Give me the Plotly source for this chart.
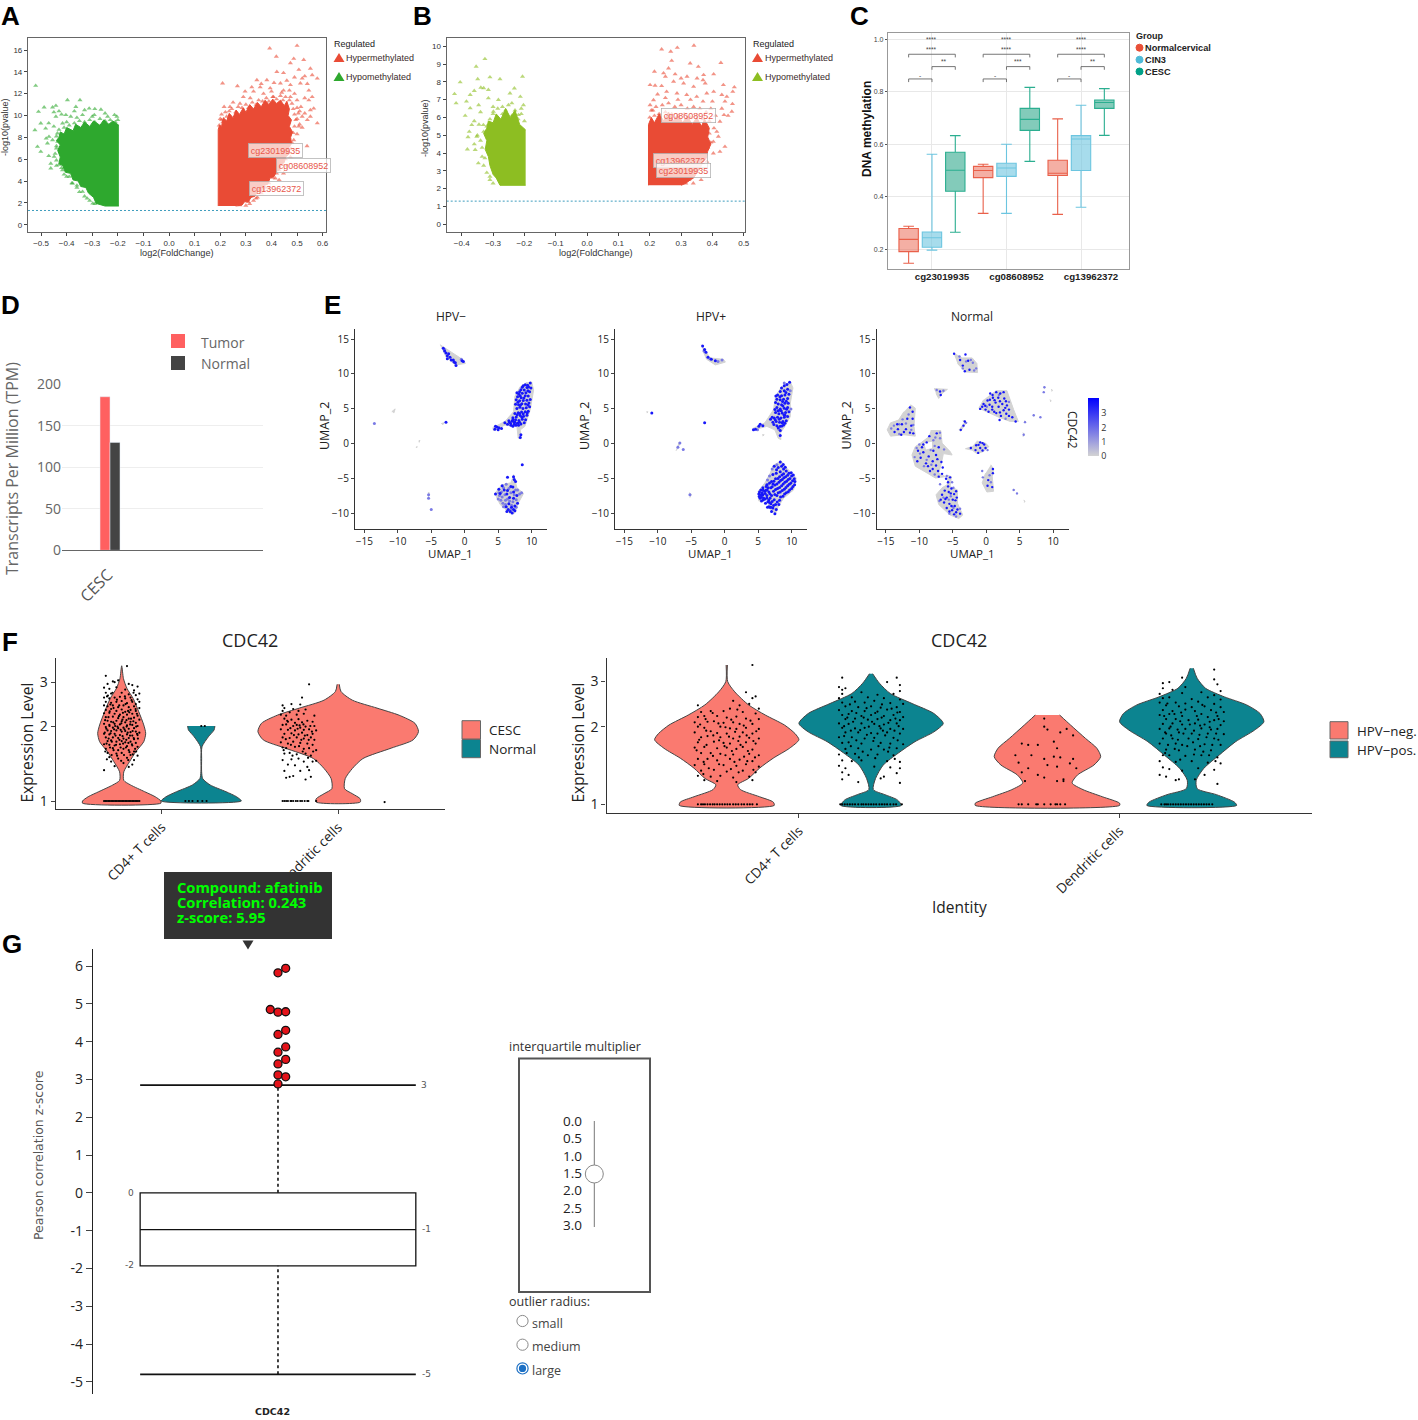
import plotly.graph_objects as go

W, H = 1418, 1420

# ---------------- A: volcano (dense core outlines, plus outlying points)
A_RED_CORE_X = [.192,.192,.197,.205,.212,.225,.235,.25,.262,.275,.29,.30,.315,.33,.345,.36,.375,.39,.405,.42,.435,.45,.46,.47,.465,.478,.47,.482,.475,.478,.465,.47,.455,.45,.44,.43,.42,.41,.395,.385,.37,.36,.345,.335,.32,.31,.295,.285,.26]
A_RED_CORE_Y = [1.71,8.7,9.1,9.0,9.8,9.5,10.2,9.8,10.5,10.1,10.7,10.3,11,10.6,11.2,10.8,11.4,11,11.5,11.1,11.4,10.9,11.3,10.6,10,9.6,9,8.5,8,7.4,7,6.5,6.2,5.7,5.6,5,4.9,4.4,4.3,3.7,3.6,3.1,3,2.6,2.5,2.1,2.1,1.8,1.71]
A_RED_PTS = [(.5,16.4),(.393,16.15),(.419,15.4),(.487,15.2),(.526,15.1),(.474,14.8),(.421,14),(.447,13.9),(.507,14.2),
 (.552,14.3),(.559,13.7),(.579,13.4),(.209,12.95),(.343,13.25),(.382,13.25),(.323,12.6),(.267,12.7),(.297,12.2),
 (.356,12.6),(.395,12.5),(.435,12.95),(.474,12.8),(.513,12.95),(.546,12.3),(.559,11.7),(.552,10.5),(.565,10.65),
 (.579,9.3),(.552,9.9),(.546,11.4),(.5,11.4),(.474,11.7),(.447,12.3),(.408,11.7),(.369,12),(.317,11.6),(.277,11.1),
 (.238,10.8),(.215,10.8),(.205,9.6),(.539,7.2),(.507,9),(.487,7.75),(.474,6.2),(.447,4.7),(.415,4.25),(.369,3.2),
 (.277,1.8),(.53,13.6),(.54,12.9),(.52,13.4),(.49,13.5),(.46,13.2),(.41,13),(.36,12.9),(.53,10.2),(.54,9.6),(.52,8.9),
 (.5,8.3),(.51,10.4),(.33,12.2),(.25,11.2),(.29,11.7),(.46,5.4),(.43,4.1),(.39,3.3),(.34,2.4),(.31,2.1),
 (.196,9.1),(.2,9.7),(.205,10.1),(.21,9.4),(.22,10.3),(.225,9.9),(.235,10.4),(.245,10.6),(.26,10.3),(.27,10.8),(.285,10.7),
 (.3,11),(.31,10.7),(.325,11.2),(.34,11),(.35,11.4),(.365,11.3),(.38,11.6),(.39,11.3),(.405,11.7),(.42,11.5),(.435,11.8),
 (.445,11.4),(.455,11.7),(.47,11.4),(.48,11.1),(.485,10.6),(.49,10.1),(.495,9.6),(.5,10.7),(.505,10.2),(.51,9.2),(.515,10.8),
 (.52,9.9),(.49,9),(.485,8.4),(.48,7.5),(.475,7),(.47,6.6),(.455,6),(.445,5.5),(.43,5),(.42,4.7),(.405,4.3),(.39,3.8),
 (.375,3.4),(.36,2.9),(.345,2.5),(.33,2.2),(.315,1.9),(.3,1.75),(.49,12),(.53,11.6),(.5,9.7),(.47,12.3),(.44,12.1),(.4,12.2)]
A_GREEN_CORE_X = [-.196,-.25,-.285,-.295,-.315,-.325,-.345,-.355,-.375,-.385,-.405,-.415,-.43,-.425,-.435,-.425,-.44,-.43,-.425,-.41,-.40,-.375,-.365,-.345,-.33,-.31,-.295,-.27,-.255,-.235,-.22,-.196]
A_GREEN_CORE_Y = [1.71,1.71,1.95,2.5,2.9,3.4,3.5,4,4.1,4.7,4.8,5.4,5.6,6.2,6.8,7.3,7.7,8,8.5,8.3,8.9,8.6,9.2,8.9,9.4,9,9.5,9.1,9.6,9.2,9.5,9.1]
A_GREEN_PTS = [(-.521,12.73),(-.397,11.42),(-.348,11.42),(-.442,10.9),(-.51,10.35),(-.488,10.75),(-.455,10.75),
 (-.364,10.8),(-.312,10.65),(-.266,10.55),(-.213,10.05),(-.204,9.9),(-.524,8.67),(-.501,9.28),(-.482,8.82),(-.442,9.9),
 (-.403,10.05),(-.416,9.28),(-.501,6.69),(-.514,7.15),(-.462,5.6),(-.455,7.75),(-.475,7.45),(-.462,5.16),(-.449,6.23),
 (-.469,8.06),(-.436,8.37),(-.384,9.9),(-.338,10.05),(-.292,10.05),(-.24,9.9),(-.298,1.95),(-.338,3.02),(-.377,3.79),
 (-.416,5.0),(-.45,10.3),(-.43,10.4),(-.42,10.1),(-.37,10.4),(-.33,10.5),(-.29,10.6),(-.25,10.2),(-.47,9.3),(-.45,9.0),
 (-.48,7.9),(-.44,7.2),(-.47,6.3),(-.44,5.4),(-.4,4.4),(-.36,3.4),(-.32,2.4),
 (-.2,9.6),(-.21,9.4),(-.23,9.6),(-.25,9.5),(-.27,9.7),(-.29,9.4),(-.31,9.6),(-.33,9.4),(-.35,9.5),(-.37,9.3),(-.39,9.1),(-.41,8.9),
 (-.43,8.7),(-.44,8.1),(-.435,7.6),(-.44,7),(-.445,6.5),(-.44,5.9),(-.43,5.5),(-.42,5.2),(-.41,4.6),(-.39,4.4),(-.38,3.8),(-.36,3.6),
 (-.35,3),(-.33,2.6),(-.31,2.2),(-.29,1.9),(-.4,9.4),(-.36,9.8),(-.3,9.9)]
A_LABELS = ["cg23019935", "cg08608952", "cg13962372"]
A_LABEL_X = [0.414, 0.524, 0.42]
A_LABEL_Y = [6.8, 5.4, 3.35]
A_THRESHOLD = 1.3

# ---------------- B: volcano
B_RED_CORE_X = [.196,.196,.205,.215,.23,.245,.26,.275,.29,.305,.32,.335,.35,.365,.375,.39,.385,.395,.385,.38,.37,.36,.35,.34,.33,.315,.30]
B_RED_CORE_Y = [2.19,5.6,6,5.7,6.2,5.8,6.3,5.8,6.2,5.7,6.1,5.6,6,5.5,5.9,5.4,4.9,4.5,4.1,3.7,3.5,3.1,2.9,2.6,2.5,2.3,2.19]
B_RED_PTS = [(.238,9.83),(.288,9.92),(.267,9.7),(.341,10.04),(.27,9.19),(.329,9.04),(.427,9.07),(.355,8.85),(.26,8.76),
 (.215,8.58),(.244,8.49),(.281,8.43),(.372,8.39),(.404,8.43),(.319,8.3),(.351,8.2),(.201,7.83),(.217,7.79),(.238,7.77),
 (.276,8.02),(.308,7.92),(.34,7.73),(.377,7.92),(.435,7.83),(.47,7.7),(.465,7.45),(.254,7.45),(.287,7.36),(.318,7.27),
 (.404,7.45),(.43,7.27),(.446,7.17),(.212,6.98),(.201,6.7),(.35,7.17),(.382,7.36),(.464,6.76),(.462,6.33),(.437,6.14),
 (.424,5.77),(.414,5.2),(.403,4.64),(.419,4.93),(.44,4.36),(.424,4.08),(.403,3.99),(.382,3.52),(.339,2.3),(.364,2.49),
 (.334,2.68),(.37,8.1),(.25,8.3),(.3,8.2),(.225,7.3),(.44,6.9),(.43,6.5),(.45,6.1),
 (.2,6),(.205,6.4),(.215,6.1),(.22,6.6),(.23,6.2),(.24,6.7),(.25,6.3),(.26,6.8),(.27,6.2),(.28,6.6),(.29,6.1),(.3,6.7),(.31,6.2),
 (.32,6.5),(.33,6),(.34,6.6),(.35,6.1),(.36,6.5),(.37,5.9),(.38,6.3),(.39,5.8),(.395,6.5),(.41,6.1),(.405,5.4),(.39,5.1),(.395,4.6),
 (.385,4.3),(.375,3.8),(.36,3.4),(.35,3.1),(.34,2.8),(.325,2.5),(.315,2.3),(.4,6.9),(.37,6.9),(.33,7),(.29,7),(.25,7.1),(.21,6.4)]
B_GREEN_CORE_X = [-.196,-.278,-.29,-.3,-.31,-.315,-.325,-.32,-.33,-.32,-.315,-.3,-.29,-.275,-.26,-.245,-.23,-.215,-.196]
B_GREEN_CORE_Y = [2.19,2.19,2.6,2.8,3.3,3.8,4.2,4.7,5.1,5.4,5.8,5.7,6.2,5.9,6.5,6,6.4,5.6,5.3]
B_GREEN_PTS = [(-.326,9.29),(-.354,8.86),(-.405,7.98),(-.349,8.16),(-.31,8.26),(-.278,8.16),(-.206,8.3),(-.423,7.32),
 (-.418,6.8),(-.339,7.68),(-.373,7.27),(-.315,7.55),(-.232,7.64),(-.246,7.36),(-.389,6.1),(-.373,6.52),(-.346,6.7),
 (-.315,7.08),(-.283,6.99),(-.213,7.17),(-.203,6.7),(-.376,5.2),(-.382,4.21),(-.357,4.18),(-.352,4.93),(-.368,5.58),
 (-.331,5.58),(-.347,3.43),(-.31,2.68),(-.326,3.71),(-.299,6.33),(-.251,6.7),(-.219,6.14),(-.33,7.65),(-.36,7.5),
 (-.385,6.9),(-.34,6.3),(-.36,5.8),(-.38,4.9),(-.27,6.6),
 (-.2,5.8),(-.21,6.2),(-.22,5.9),(-.23,6.4),(-.24,6.1),(-.26,6.4),(-.27,6.2),(-.285,6.5),(-.3,6.2),(-.31,5.9),(-.32,5.5),(-.33,5.2),
 (-.34,4.7),(-.335,4.3),(-.335,3.8),(-.33,3.3),(-.32,2.9),(-.31,2.5),(-.3,2.3),(-.345,5.6),(-.35,5),(-.36,4.5),(-.3,6.6),(-.24,6.8),(-.21,6.5)]
B_LABELS = ["cg13962372", "cg23019935", "cg08608952"]
B_LABEL_X = [0.299, 0.307, 0.323]
B_LABEL_Y = [3.6, 3.03, 6.1]
B_THRESHOLD = 1.3

# ---------------- C: boxplots
C_PROBES = ["cg23019935", "cg08608952", "cg13962372"]
C_GROUPS = ["Normalcervical", "CIN3", "CESC"]
C_LOW = [[.147, .337, .333], [.197, .337, .36], [.265, .535, .634]]
C_Q1 = [[.191, .473, .481], [.208, .478, .5], [.421, .653, .737]]
C_MED = [[.238, .5, .49], [.244, .51, .62], [.501, .695, .759]]
C_Q3 = [[.279, .516, .539], [.266, .528, .633], [.57, .737, .769]]
C_HIGH = [[.288, .524, .697], [.562, .6, .749], [.633, .817, .812]]
C_STARS = [["-", "**", "****", "****"], ["-", "***", "****", "****"], ["-", "**", "****", "****"]]

# ---------------- D: bars
D_CANCER = ["CESC"]
D_TUMOR = [185]
D_NORMAL = [130]

# ---------------- E: UMAP cluster outlines (grey) and expressing cells
E1_CLUSTERS = [
 [(-3.7,14.2),(-.2,12),(.1,11.5),(-1.4,11.3),(-2.9,12.5)],
 [(10,8.9),(10.3,7.7),(9.8,4.9),(9,2.5),(8.3,2),(8.4,.7),(8,.8),(7.8,2.5),(6,2.7),(5.1,2.2),(4.3,1.9),(4.2,2.3),(6,3.2),(7.3,4.6),(7.5,6.8),(8.3,8.2),(9.3,8.8)],
 [(7.3,-4.4),(7.8,-6.3),(8.8,-7.1),(8,-8.5),(7.5,-9.9),(6.8,-10),(5.3,-8.7),(4.5,-7.1),(5.5,-5.9),(6.8,-5.6)],
 [(-10.9,4.6),(-10.4,5),(-10.6,4.4)], [(-6.9,.4),(-6.7,.5),(-6.8,.2)], [(-7.3,-.5),(-7.1,-.4),(-7.2,-.6)],
 [(-3.5,2.9),(-3.1,3),(-3.3,2.7)], [(-5.5,-7),(-5.3,-7),(-5.4,-7.6)]]
E1_HIGH = [(-3.2,13.7),(-3,13.3),(-2.8,13),(-2.6,12.6),(-2.6,12.2),(-2.2,12.4),(-2,12),(-1.7,12),(-1.4,11.6),(-1.3,11.2),(-.4,11.9),(-.2,11.8),(-2.4,12.9),(-1.6,11.7),
 (9.8,8.7),(9.4,8.4),(9.05,8.45),(8.6,8.1),(9.9,8),(9.3,8.05),(8.9,7.7),(8.4,7.75),(9.7,7.45),(9.15,7.3),(8.6,7.25),(8.1,7.1),(9.5,6.85),(9.05,6.9),(8.45,6.6),(7.9,6.75),(9.8,6.35),(9.3,6.25),(8.75,6.2),(8.2,6.15),(7.7,6.3),(9.6,5.85),(9.1,5.7),(8.55,5.75),(8.05,5.6),(7.6,5.65),(9.7,5.3),(9.2,5.15),(8.7,5.05),(8.25,5.25),(7.8,5.05),(9.5,4.65),(9.05,4.6),(8.5,4.55),(8,4.45),(7.5,4.35),(9.3,4.1),(8.8,3.95),(8.3,4.05),(7.7,3.85),(7.2,3.75),(9.1,3.45),(8.6,3.5),(8.1,3.35),(7.6,3.45),(7.1,3.25),(6.6,3.3),(8.9,3),(8.4,2.85),(7.9,2.95),(7.4,2.8),(6.9,2.65),(6.4,2.8),(6,3),(8.4,1.3),(8.3,.9),(4.5,2.1),(4.8,2.4),(5.1,2.3),(4.6,2.5),(5,2),(5.5,2.2),(7.2,2.5),(6.7,3.1),(7.5,3.1),(8.2,3.1),
 (9.55,8.15),(8.75,8.3),(8.2,7.45),(9.45,7.6),(7.8,7.3),(8.85,6.55),(8.3,6.85),(9.45,5.55),(8.35,5.55),(7.95,5.95),(9.35,4.4),(8.75,4.3),(8.2,4.35),(7.85,4.15),(8.55,3.8),(7.4,3.1),(8.05,2.65),(7.2,3.45),(6.85,2.95),(7.65,2.65),
 (8.6,-3),(6.4,-4.8),(7.3,-4.7),(7.4,-5.1),(7.6,-5.4),(5.6,-6),(6.9,-6.1),(7.2,-6.2),(5.1,-6.5),(5.9,-6.6),(6.4,-6.7),(7.3,-6.9),(4.6,-7.2),(5.3,-7.1),(6.3,-7.2),(7.8,-7.4),(6.7,-7.7),(7.3,-7.8),(7.9,-8.5),(6.6,-8.6),(7.5,-8.9),(6.2,-9),(7,-9.1),(6.5,-9.4),(7.3,-9.4),(6.8,-9.7),(7.1,-9.9),(7.5,-9.6),(6.3,-9.7),(-2.8,3.1)]
E1_MID = [(5.6,-7.6),(5,-7.9),(6.1,-8.1),(7.2,-8.3),(5.7,-8.5),(5.2,-7.4),(6,-7.3),(6.6,-6.4),(5.5,-6.9),(8.2,-7.2),(8.5,-7),(5.8,-9),(7.9,-6.6),(-13.5,2.9),(-5.4,-7.8),(-5.4,-7.3),(-5,-9.4),(-3,13.5),(-.5,12.1),
 (6.9,-7),(5.8,-6.3),(6.4,-7.9),(7,-8.8),(6.1,-8.7),(7.7,-8),(5.1,-7),(7.6,-6.6),(6.7,-8.2),(6.2,-5.8),(5.4,-8.1),(7.4,-7.3),(6.9,-9.4),(7.7,-9.1)]
E2_CLUSTERS = [
 [(-3.5,14.2),(-2.7,13),(-2.2,12.3),(-.2,12.1),(.1,11.7),(-1.4,11.3),(-2.7,12.1),(-3.2,13.2)],
 [(9.8,8.9),(10.2,8),(9.8,5.8),(9.8,3.9),(9,2.5),(8.3,1.5),(8.4,.6),(8,.8),(7.5,2),(6.3,2.5),(5.1,2.2),(4.2,1.9),(4.2,2.2),(6,3),(7.3,4.9),(7.6,6.8),(8.5,8.2)],
 [(8.4,-2.4),(9.3,-3.5),(10.7,-4.9),(10.3,-6.6),(8.8,-7.8),(8,-9),(7.6,-10),(6.8,-9.4),(6.3,-8),(5.1,-8.2),(5,-6.8),(6,-5.6),(6.8,-4.2),(7.3,-3)],
 [(-11.7,4.6),(-11.5,4.6),(-11.6,4.4)], [(-6.9,.2),(-6.6,.2),(-7.2,-.9),(-7.3,-1)], [(-5.3,-7),(-5,-7.2),(-5.2,-7.7)], [(5.6,1.3),(5.9,1.3),(5.7,1.1)]]
E2_HIGH = [(-3.3,14),(-3,13.5),(-2.8,13.1),(-2.5,12.4),(-2,12.1),(-1.4,11.9),
 (9.7,8.8),(9.3,8.5),(8.9,8.3),(8.5,8),(9.4,7.8),(8.9,7.6),(8.3,7.5),(9.6,7.1),(9,7),(8.5,6.9),(7.9,7),(9.4,6.5),(8.8,6.4),(8.3,6.3),(7.8,6.4),(9.5,5.8),(9,5.8),(8.5,5.6),(8,5.7),(7.6,5.9),(9.4,5.2),(8.9,5.1),(8.3,5),(7.8,5.2),(9.6,4.6),(9.1,4.5),(8.6,4.4),(8.1,4.3),(7.6,4.5),(9.4,3.9),(8.9,3.8),(8.4,3.7),(7.9,3.8),(7.4,3.7),(9.2,3.3),(8.7,3.2),(8.2,3.1),(7.7,3.2),(7.2,3.1),(8.8,2.7),(8.3,2.5),(7.8,2.6),(8.3,1.9),(8.3,1.2),(5.1,2.5),(4.6,2.1),(4.3,2),(5.3,2.8),(5.7,2.6),(7.1,3.8),(7.5,4.9),(8.6,3),(9,4.1),(8.2,4.8),(8.7,5.4),(9.2,6.1),
 (9.15,7.35),(8.25,6.75),(8.65,6.05),(7.65,6.85),(9.25,4.95),(8.45,4.75),(7.95,4.75),(8.85,4.15),(8.15,3.5),(7.55,3.45),(6.85,3.5),(9,2.95),(8,2.3),(7.35,2.75),(8.55,2.55),
 (8.3,-2.6),(8.5,-3.2),(8,-3.4),(8.8,-3.6),(7.4,-3.2),(8.3,-4),(9.2,-3.9),(7.7,-4.2),(8.8,-4.3),(9.6,-4.2),(7.2,-4.4),(8.2,-4.7),(9.1,-4.7),(10,-4.6),(7.6,-5),(8.6,-5.1),(9.5,-5.1),(10.4,-5),(7,-5.4),(8.1,-5.5),(9,-5.5),(9.9,-5.6),(10.5,-5.4),(7.5,-5.9),(8.5,-6),(9.4,-6),(10.2,-6.1),(6.2,-6.1),(6.9,-6.3),(7.9,-6.4),(8.9,-6.5),(9.7,-6.6),(5.4,-6.6),(6,-6.8),(6.6,-6.9),(7.3,-6.8),(8.3,-6.9),(9.2,-7),(5.1,-7.2),(5.7,-7.3),(6.3,-7.4),(7,-7.4),(7.8,-7.4),(8.7,-7.5),(5.3,-7.8),(6,-7.9),(6.6,-8),(7.4,-8),(8.2,-8.1),(6.1,-8.5),(6.9,-8.6),(7.6,-8.7),(6.4,-9.1),(7.2,-9.2),(7,-9.7),(7.7,-9.4),(7.5,-10),(5.5,-8.2),(-10.9,4.4),(-3,3),
 (8.75,-2.95),(7.75,-3.7),(9.05,-3.35),(9.95,-4.15),(8.55,-4.45),(9.4,-4.5),(10.25,-4.45),(7.95,-4.95),(8.85,-4.85),(9.75,-4.95),(7.35,-5.35),(8.35,-5.25),(9.25,-5.35),(10.15,-5.3),(7.8,-5.75),(8.75,-5.75),(9.65,-5.8),(10.45,-5.85),(8.2,-6.25),(9.15,-6.25),(10,-6.4),(7.6,-6.55),(8.6,-6.7),(9.5,-6.85),(5.75,-6.65),(6.35,-6.6),(8,-7),(8.95,-7.2),(5.5,-7.6),(7.5,-7.25),(8.35,-7.6),(6.8,-7.75),(7.1,-8.25),(7.85,-8.35),(8.1,-8.7),(7.3,-8.85),(6.75,-9.1),
 (5.2,-6.9),(5.6,-7),(6.2,-6.6),(6.5,-6.3),(5.8,-7.75),(5.4,-7.3),(6.05,-7.1),(6.75,-7.15),(5.15,-7.55),(5.75,-8.05),(6.45,-8.3),(6.3,-7.75),(6.7,-8.4),(6.6,-9),(6.9,-9.1),(5.7,-6.3),(6.3,-5.85),(6.7,-5.6),(7.2,-5.75),(7.1,-6.15)]
E2_MID = [(-1,11.8),(-.4,12),(-2.2,12.2),(-3.1,13.3),(8.9,8.7),(9.8,7.6),(8.1,2.1),(4.9,2),(9.9,5),(7.8,-3),(6.5,-5.8),(-6.7,.1),(-7,-.5),(-6.2,-.8),(-5.2,-7.3),(7.1,-3.6),(6.7,-4.6),(6.4,-5.2)]
E3_CLUSTERS = [
 [(-4.9,13),(-3.6,12.3),(-2.1,12.3),(-1.4,11.5),(-1.3,10.2),(-2.1,10.2),(-3.1,10.3),(-4.3,11.5)],
 [(-7.8,7.9),(-5.8,7.8),(-6.6,7.2),(-7.1,6.5),(-7.5,7.2)],
 [(-11.3,5.6),(-10.6,5.1),(-10.8,2.5),(-10.6,1.1),(-12.3,1.3),(-14.3,1.1),(-14.8,2),(-14.3,3),(-13.1,3.4),(-12.3,4.6)],
 [(-8.3,1.9),(-6.8,1.9),(-6.6,.1),(-5.4,-1.1),(-5.1,-1.6),(-6.4,-1.4),(-6.7,-2.8),(-7.1,-4.2),(-6.1,-4.7),(-7.6,-4.9),(-8.8,-4.2),(-10.6,-3.2),(-11.1,-1.6),(-10.6,-.4),(-9.8,.1),(-8.6,1)],
 [(-5.8,-4.5),(-5.2,-4.7),(-5.4,-6.1),(-4.3,-6.6),(-4.3,-8.5),(-3.5,-10.2),(-4.1,-10.7),(-5.4,-10.2),(-7.1,-8.7),(-7.5,-7.3),(-6.6,-6.3),(-5.9,-5.9)],
 [(1.4,7.6),(3.1,7.6),(4.1,4.9),(4.8,3.2),(3.6,3.2),(1.9,3.8),(-1.1,5.1),(-.4,6.3)],
 [(-3.1,3.3),(-3.5,3.3),(-3,3),(-3.8,1.8),(-4.1,2)],
 [(-1.4,.4),(-.1,.1),(.4,-.4),(-.4,-1.1),(-1.4,-1.4),(-2.1,-.9),(-3.1,-.7),(-2.1,-.4)],
 [(.7,-3),(1.1,-3.7),(.9,-4.7),(1.1,-6.8),(.1,-6.9),(-.6,-5.6),(-.1,-4.2)],
 [(8.6,8.2),(8.8,8.1),(8.7,7.9)], [(9.7,7.8),(9.9,7.7),(9.8,7.5)], [(9.5,6.3),(9.7,6.2),(9.6,6)], [(7,4.2),(7.2,4.1),(7.1,3.9)],
 [(5.7,3.3),(5.9,3.2),(5.8,3)], [(5.5,1.6),(5.7,1.4),(5.5,1)], [(4,-6.5),(4.3,-6.6),(4.1,-6.8)], [(5.6,-8.1),(5.8,-8.2),(5.7,-8.4)]]
E3_HOLES = [[(-9.3,.1),(-8.1,.3),(-8.1,-.6),(-9,-.8)]]
E3_HIGH = [(-4.8,12.9),(-3.1,12.8),(-3.9,12),(-2.7,11.9),(-3.5,11.2),(-2.5,10.6),(-3.2,10.4),(-6.9,7.5),(-6.8,7),
 (-11.4,5.2),(-11,4.6),(-11,3.6),(-12.6,2.8),(-13.2,2.1),(-12,2.1),(-13.7,1.7),(-11.4,1.6),(-12.7,1.3),(-10.9,1.5),
 (-8.5,1.1),(-7.4,1.5),(-8.9,.2),(-9.6,-.5),(-10.2,-1),(-9.4,-1.2),(-7.9,-1),(-8.6,-1.8),(-9.8,-2),(-7.1,-.5),(-7.5,-1.6),(-8,-2.5),(-9,-2.8),(-6.7,-2.6),(-7.5,-3.1),(-8,-3.6),(-7.2,-3.9),(-8.4,-3.9),(-6.6,-4.3),(-7.1,-4.7),
 (-6,-5),(-5.7,-5.5),(-5.4,-4.8),(-5.2,-6.4),(-4.5,-6.8),(-6.2,-6.7),(-5.6,-6.9),(-4.8,-7.2),(-6.6,-7.3),(-5.9,-7.7),(-5,-8),(-4.4,-7.7),(-6.3,-8.4),(-5.5,-8.6),(-4.7,-8.9),(-5.9,-9.2),(-5.1,-9.5),(-4.3,-9.4),(-4.8,-10.1),(-3.9,-10),
 (.6,7.2),(1.5,7.4),(2.6,7.4),(.2,6.2),(1,6.6),(1.8,6.6),(2.7,6.5),(-.4,5.7),(.5,5.6),(1.4,5.9),(2.4,5.7),(3.1,5.5),(-.9,5),(-.1,4.9),(.9,4.9),(2.6,4.8),(3.4,4.9),(1.5,4.4),(2.2,4),(3,4.3),(3.9,3.8),(4.4,3.2),(2,3.4),
 (-3.2,3.2),(-3.4,2.6),(-3.8,2),(-.9,.2),(-.3,-.1),(-1.5,-.2),(-.9,-.6),(-.1,-.6),(-1.6,-.9),(-1.2,-1.3),(-2.3,-.6),(1,-3.6),(1,-4.2),(.3,-5.2),(.2,-6),(.9,-6.2),
 (.95,7),(2.1,7.2),(.55,6.3),(1.25,6.25),(2.05,6.1),(2.95,6.1),(-.15,5.45),(.9,5.3),(1.85,5.3),(2.85,5.15),(-.6,5.3),(.35,4.6),(1.2,4.6),(2.05,4.5),(3.4,4),(-6.5,-3.4),(-8.7,-3.2),(-7.3,-2.2),(-9.4,-.1),(-10.3,-2.5),(-5.7,-6.1),(-5.3,-7.1),(-6.1,-7.9),(-5.2,-8.9),(-4.6,-8.1),(-4.5,-9.8),(-5.5,-9.7),(-6.8,-8),(-11.8,3.6),(-11.2,2.6),(-13.3,2.8),(-12.3,1.7),(-.55,.1),(-1.15,-.15),(-.55,-.95)]
E3_MID = [(-4,12.5),(-2,11.6),(-1.5,10.8),(-3,11.8),(-7.4,7.7),(-6.4,7.6),(-12.5,3.5),(-13,2.8),(-14.2,2.2),(-10.9,2.7),(-13,1.4),(-10,-.1),(-10.7,-1.9),(-9.3,-3.2),(-7.9,.5),(-6.9,1.6),(-6.3,-.8),(-5.9,-4.6),(-6.9,-5.8),(-5.1,-5.5),(-7,-8.2),(-5.3,-7.5),(-3.9,-9.3),(-4.5,-10.4),(1.9,7),(3.4,6),(.1,5.3),(2.9,3.6),(8.7,8.1),(8.6,7.4),(7.1,4.1),(5.8,3.1),(5.6,1.3),(8.1,3.8),(4.1,-6.6),(4.6,-7.1),(-.5,-4.8),(-3,3),(-5,-9),
 (-11.6,4.2),(-12,2.9),(-13.8,2.6),(-11.2,2),(-9.9,-1.4),(-10.4,-.6),(-8.3,-.9),(-8.9,-2.3),(-7.7,-.3),(-6.9,.8),(-7.6,.9),(-8.2,-3),(-7.7,-4.4),(-4.9,-6.3),(-6.4,-7.7),(-5.6,-8),(-4.9,-9.2),(-5.5,-10),(-2.3,12),(-3.5,10.8),(-1.8,10.5),(.2,-.9),(-.6,-3.9),(.5,-4.5),(.7,-5.5)]
E_LEVEL_HIGH = 3.6
E_LEVEL_MID = 1.7
E_TITLES = ["HPV−", "HPV+", "Normal"]

# ---------------- F: violins (expression level, half-width in category units)
V1_CD4_CESC_Y = [3.49,3.1,2.83,2.58,2.28,2.02,1.87,1.73,1.58,1.44,1.31,1.21,1.16,1.09,1.04,1.0,.98]
V1_CD4_CESC_W = [0,.01,.03,.065,.097,.125,.136,.125,.081,.045,.012,.012,.05,.13,.19,.222,.222]
V1_CD4_NORM_Y = [2.0,1.93,1.81,1.65,1.48,1.31,1.23,1.16,1.09,1.04,1.0]
V1_CD4_NORM_W = [.077,.073,.04,.004,.002,.002,.008,.05,.14,.2,.227]
V1_DC_CESC_Y = [2.94,2.75,2.54,2.36,2.21,2.05,1.9,1.76,1.63,1.48,1.35,1.23,1.12,1.07,1.02,.99]
V1_DC_CESC_W = [.006,.016,.08,.22,.345,.435,.455,.425,.30,.14,.08,.04,.036,.08,.125,.125]
V2_CD4_NEG_Y = [3.47,2.99,2.73,2.43,2.22,2.03,1.88,1.78,1.65,1.51,1.38,1.26,1.19,1.14,1.07,1.02,.99]
V2_CD4_NEG_W = [.002,.003,.025,.068,.12,.18,.213,.225,.196,.145,.102,.068,.034,.043,.102,.145,.148]
V2_CD4_POS_Y = [3.21,2.95,2.69,2.46,2.25,2.06,1.91,1.75,1.58,1.42,1.26,1.14,1.09,1.04,.99]
V2_CD4_POS_W = [.005,.026,.06,.128,.196,.225,.196,.137,.085,.038,.014,.007,.043,.082,.094]
V2_DC_NEG_Y = [2.22,2.03,1.8,1.65,1.53,1.42,1.3,1.21,1.14,1.07,1.01,.99]
V2_DC_NEG_W = [.038,.072,.119,.154,.166,.145,.094,.077,.111,.171,.225,.225]
V2_DC_POS_Y = [3.37,3.08,2.82,2.61,2.43,2.25,2.09,1.94,1.75,1.55,1.38,1.24,1.15,1.09,1.02,.99]
V2_DC_POS_W = [.005,.017,.043,.102,.171,.213,.225,.196,.137,.085,.038,.014,.017,.077,.133,.14]

# jittered cells: (offset from the group's centre in hundredths of a category, expression level)
D1_CD4 = [(3,3.48),(-9,3.18),(-5,3.02),(-4,3.0),(-8,2.95),(-2,3.05),(4,2.95),(6,2.92),(9,2.88),(-10,2.85),(-7,2.82),(-3,2.86),(2,2.8),(7,2.78),(10,2.7),(-9,2.72),(-6,2.7),(0,2.72),(4,2.68),(8,2.66),(-10,2.6),(-7,2.58),(-4,2.6),(-1,2.62),(2,2.58),(5,2.6),(9,2.56),(10,2.5),(-9,2.5),(-6,2.48),(-3,2.5),(0,2.52),(3,2.47),(6,2.5),(8,2.45),(-10,2.42),(-8,2.4),(-5,2.42),(-2,2.38),(1,2.42),(4,2.38),(7,2.4),(10,2.36),(-9,2.32),(-6,2.34),(-3,2.3),(0,2.33),(2,2.28),(5,2.32),(8,2.3),(-10,2.25),(-7,2.26),(-4,2.24),(-1,2.22),(3,2.22),(6,2.24),(9,2.2),(-9,2.17),(-5,2.18),(-2,2.15),(1,2.17),(4,2.14),(7,2.16),(10,2.12),(-8,2.1),(-6,2.08),(-3,2.1),(0,2.09),(2,2.07),(5,2.08),(8,2.06),(-10,2.04),(-7,2.02),(-4,2.04),(-1,2.03),(3,2.01),(6,2.02),(9,2.0),(-9,1.98),(-5,1.97),(-2,1.96),(1,1.97),(4,1.95),(7,1.96),(-8,1.92),(-6,1.91),(-3,1.92),(0,1.9),(2,1.91),(5,1.89),(8,1.9),(10,1.88),(-10,1.86),(-7,1.85),(-4,1.86),(-1,1.84),(3,1.85),(6,1.83),(9,1.84),(-9,1.8),(-5,1.8),(-2,1.79),(1,1.78),(4,1.79),(7,1.77),(-8,1.74),(-6,1.75),(-3,1.73),(0,1.74),(2,1.72),(5,1.73),(8,1.71),(-10,1.69),(-7,1.68),(-4,1.67),(-1,1.69),(3,1.66),(6,1.67),(9,1.65),(-9,1.62),(-5,1.63),(-2,1.6),(1,1.62),(4,1.6),(7,1.58),(-8,1.56),(-3,1.55),(0,1.56),(5,1.53),(9,1.52),(-7,1.5),(-2,1.48),(3,1.49),(7,1.46),(-6,1.44),(1,1.42),(6,1.4),(-4,1.38),(4,1.37),(-10,1.33),
 (-8.3,2.63),(-2.7,2.55),(5.6,2.54),(-6.4,2.44),(2.2,2.45),(7.9,2.34),(-4.6,2.36),(.7,2.26),(-7.5,2.17),(4.3,2.27),(8.6,2.24),(-1.6,2.19),(-9.4,2.11),(2.7,2.11),(6.6,2.09),(-4.8,2.07),(.4,2.12),(-6.9,2.0),(4.8,2.03),(8.2,1.99),(-2.4,1.99),(-8.7,1.95),(1.6,1.94),(6.2,1.91),(-4.3,1.94),(-.6,1.93),(3.4,1.88),(-9.6,1.88),(-6.3,1.87),(8.7,1.86),(.5,1.82),(-3.5,1.83),(4.7,1.83),(-7.4,1.78),(2.6,1.76),(6.8,1.79),(-1.3,1.76),(-5.6,1.73),(9.2,1.78),(3.8,1.71),(-8.6,1.7),(.8,1.7),(-3.2,1.68),(5.8,1.69),(-6.6,1.64),(2.4,1.64),(7.6,1.62),(-.6,1.64),(-4.6,1.6),(-9.3,1.58),(4.4,1.57),(1.3,1.53),(-2.6,1.52),(6.3,1.54),(-5.7,1.53),(-8.4,1.47),(-.3,1.45),(3.7,1.46),(8.2,1.58),(-3.7,2.0),(-.2,2.05),(2.8,1.99),(5.3,2.14),(-6.8,2.29),(3.6,2.3),(-1.4,2.42),(1.8,2.63),(-5.2,2.72),(-7.8,2.65),(6.7,2.72)]
D1_CD4_STRIP = [-10,-9.2,-8.4,-7.6,-6.8,-6,-5.2,-4.4,-3.6,-2.8,-2,-1.2,-.4,.4,1.2,2,2.8,3.6,4.4,5.2,6,6.8,7.6,8.4,9.2,10]
D1_NORM = [(0,2.0),(2,2.0)]
D1_NORM_STRIP = [-9,-7,-5,-2,.6,3]
D1_DC = [(6,2.94),(2,2.6),(-9,2.42),(-4,2.45),(1,2.44),(-8,2.36),(-3,2.34),(0,2.3),(-9,2.3),(-5,2.27),(4,2.33),(-10,2.22),(-7,2.2),(-1,2.22),(3,2.24),(9,2.2),(-8,2.14),(-4,2.12),(0,2.13),(-6,2.08),(-2,2.06),(2,2.07),(5,2.1),(8,2.08),(-9,2.02),(-7,2.03),(-3,2.0),(-1,2.02),(1,1.97),(4,1.99),(9,2.0),(-10,1.94),(-6,1.93),(-2,1.92),(3,1.93),(6,1.94),(10,1.92),(-8,1.86),(-4,1.87),(0,1.85),(2,1.88),(5,1.84),(8,1.86),(-9,1.8),(-5,1.79),(-1,1.8),(3,1.78),(7,1.8),(9,1.76),(-10,1.72),(-6,1.7),(-3,1.73),(1,1.71),(5,1.7),(8,1.68),(-9,1.64),(-7,1.63),(-2,1.65),(3,1.62),(6,1.63),(10,1.6),(-8,1.55),(-5,1.56),(-1,1.54),(4,1.55),(7,1.52),(-9,1.46),(-4,1.47),(0,1.48),(3,1.44),(8,1.44),(10,1.45),(-6,1.4),(-2,1.39),(5,1.37),(-8,1.32),(1,1.32),(6,1.33),(-7,1.24),(-5,1.25),(-3,1.26),(4,1.22),(7,1.25),
 (-6.4,2.1),(.6,2.01),(2.8,2.03),(6.7,2.0),(-4.6,1.96),(-.5,1.95),(7.6,1.9),(-2.6,1.84),(3.6,1.83),(-7.2,1.77),(1.6,1.76),(5.8,1.76),(-4.3,1.68),(.3,1.66),(-8.4,1.6),(2.4,1.58),(8.3,1.58),(-3.4,1.52),(5.4,1.49)]
D1_DC_STRIP = [-9,-8,-7,-6,-4.5,-4,-3,-1.5,-.5,1,2,3.5,5,5.6,10]
D1_LONE_X = [1.263]
D1_LONE_Y = [.99]
D2_CD4_NEG = [(8,3.47),(6,2.72),(9,2.62),(8,2.58),(-9,2.42),(2,2.52),(4,2.42),(7,2.45),(10,2.35),(-8,2.28),(-5,2.3),(-1,2.3),(1,2.35),(5,2.28),(9,2.25),(-9,2.18),(-7,2.2),(-3,2.2),(0,2.17),(3,2.19),(6,2.15),(10,2.14),(-10,2.08),(-6,2.09),(-4,2.1),(-1,2.07),(2,2.08),(4,2.05),(8,2.05),(-9,2.0),(-7,1.98),(-2,2.0),(1,1.97),(3,1.96),(6,1.98),(10,1.96),(-10,1.9),(-5,1.92),(-3,1.89),(0,1.88),(5,1.9),(8,1.88),(-8,1.82),(-6,1.84),(-2,1.82),(2,1.8),(4,1.83),(7,1.81),(10,1.8),(-9,1.74),(-4,1.75),(-1,1.73),(1,1.72),(6,1.74),(9,1.72),(-10,1.66),(-7,1.67),(-3,1.65),(0,1.66),(3,1.64),(5,1.67),(8,1.63),(-8,1.58),(-5,1.58),(-2,1.57),(2,1.56),(7,1.57),(10,1.55),(-9,1.5),(-6,1.5),(-3,1.48),(1,1.5),(4,1.49),(8,1.47),(-10,1.42),(-7,1.43),(-1,1.42),(3,1.41),(6,1.43),(10,1.4),(-8,1.35),(-4,1.36),(0,1.34),(5,1.35),(9,1.33),(-9,1.29),(-5,1.28),(-2,1.29),(2,1.27),(7,1.28),(-7,1.24),(-3,1.23),(3,1.22),(8,1.24),
 (-4.4,2.26),(3.3,2.33),(-6.6,2.14),(1.4,2.13),(7.4,2.11),(-8.3,2.04),(-2.6,2.06),(5.3,2.02),(-.4,1.99),(-6.4,1.93),(2.6,1.91),(9.2,1.92),(-4.2,1.85),(.7,1.83),(6.2,1.85),(-8.6,1.78),(-2.4,1.77),(3.6,1.76),(8.3,1.76),(-6.3,1.7),(-.7,1.68),(4.3,1.7),(-9.4,1.62),(1.6,1.61),(6.6,1.61),(-4.3,1.54),(-.4,1.55),(5.4,1.53),(8.8,1.52),(-7.2,1.46),(2.4,1.46),(-2.4,1.43),(6.4,1.47),(-5.6,1.38),(1.3,1.37),(3.7,1.33),(-7.3,1.31),(8.3,1.36)]
D2_CD4_POS = [(-9,3.1),(8,3.1),(5,2.98),(9,2.9),(-10,2.85),(-9,2.78),(-8,2.82),(9,2.75),(-9,2.68),(-3,2.72),(2,2.66),(7,2.68),(-10,2.58),(-6,2.6),(-1,2.6),(4,2.58),(9,2.55),(-9,2.48),(-5,2.5),(-2,2.48),(1,2.52),(6,2.47),(10,2.45),(-8,2.4),(-4,2.38),(0,2.4),(3,2.37),(8,2.38),(-10,2.32),(-6,2.3),(-2,2.3),(2,2.29),(5,2.33),(9,2.28),(-9,2.22),(-7,2.24),(-3,2.2),(0,2.22),(4,2.2),(7,2.22),(10,2.18),(-8,2.14),(-5,2.15),(-1,2.13),(2,2.14),(6,2.12),(9,2.12),(-10,2.06),(-7,2.05),(-3,2.06),(1,2.05),(4,2.04),(8,2.06),(-9,1.98),(-5,1.97),(-2,1.98),(3,1.97),(6,1.96),(10,1.96),(-8,1.9),(-4,1.9),(0,1.89),(2,1.88),(5,1.9),(9,1.88),(-10,1.82),(-6,1.82),(-2,1.8),(1,1.81),(7,1.81),(-9,1.73),(-7,1.74),(-3,1.72),(3,1.73),(6,1.72),(10,1.71),(-8,1.64),(-4,1.65),(0,1.63),(4,1.63),(8,1.65),(-10,1.56),(-5,1.57),(-1,1.55),(2,1.56),(7,1.55),(-9,1.48),(-6,1.47),(-3,1.48),(5,1.47),(9,1.46),(-10,1.41),(-8,1.38),(1,1.4),(6,1.39),(9,1.38),(-9,1.33),(-7,1.3),(8,1.32),(4,1.28),(-9,1.25),(-4,1.22),(3,1.26),(9,1.21),
 (-6.6,2.44),(3.4,2.44),(-1.4,2.36),(6.4,2.35),(-4.6,2.26),(1.3,2.26),(8.2,2.27),(-7.4,2.17),(3.3,2.17),(-2.3,2.17),(7.6,2.15),(-5.6,2.09),(.3,2.09),(5.4,2.07),(-8.4,2.01),(-.7,2.0),(2.6,2.01),(8.6,2.01),(-6.3,1.93),(-3.4,1.94),(3.7,1.93),(7.3,1.93),(-1.3,1.86),(4.4,1.85),(-8.4,1.84),(.7,1.76),(-4.6,1.77),(8.3,1.77),(-6.3,1.68),(2.3,1.68),(5.7,1.66),(-2.6,1.6),(5.3,1.6),(-7.6,1.58),(1.3,1.51),(-3.8,1.52),(7.4,1.5)]
D2_DC_NEG = [(-1,2.15),(-1,2.0),(0,1.95),(6,1.96),(4,1.9),(8,1.85),(2,1.75),(-8,1.72),(-6,1.7),(-3,1.7),(3,1.65),(-10,1.55),(-5,1.55),(-1,1.5),(2,1.53),(4,1.52),(8,1.5),(-9,1.45),(0,1.42),(3,1.4),(7,1.44),(-6,1.38),(9,1.38),(-8,1.33),(-3,1.3),(5,1.25),(-7,1.23),(-1,1.27),(3,1.23),(5,1.23)]
D2_DC_POS = [(7,3.33),(-3,3.1),(7,3.05),(-9,2.95),(-7,2.98),(8,2.92),(-9,2.82),(-6,2.78),(-2,2.85),(9,2.75),(-10,2.68),(-3,2.7),(3,2.72),(7,2.65),(-9,2.58),(-7,2.6),(0,2.56),(5,2.6),(9,2.55),(-10,2.48),(-5,2.48),(-2,2.46),(2,2.5),(7,2.45),(-8,2.42),(-4,2.4),(0,2.38),(4,2.4),(9,2.38),(-9,2.32),(-6,2.3),(-2,2.33),(1,2.3),(6,2.32),(10,2.28),(-10,2.22),(-7,2.24),(-3,2.2),(3,2.24),(5,2.18),(8,2.2),(-8,2.14),(-5,2.14),(-1,2.12),(2,2.13),(7,2.12),(10,2.1),(-9,2.05),(-6,2.06),(-3,2.04),(1,2.06),(4,2.04),(9,2.03),(-10,1.96),(-7,1.97),(-2,1.96),(3,1.97),(6,1.95),(8,1.96),(-8,1.88),(-4,1.9),(0,1.88),(5,1.88),(10,1.87),(-9,1.8),(-6,1.8),(-1,1.8),(2,1.79),(7,1.8),(-10,1.72),(-5,1.72),(-3,1.7),(4,1.71),(9,1.7),(-8,1.63),(-4,1.62),(1,1.63),(6,1.62),(-9,1.55),(-7,1.55),(-2,1.54),(3,1.55),(8,1.52),(-10,1.47),(-5,1.46),(0,1.47),(5,1.45),(9,1.44),(-9,1.39),(-7,1.37),(-3,1.35),(2,1.38),(7,1.36),(-10,1.3),(-8,1.28),(-4,1.25),(-5,1.24),(1,1.25),(4,1.3),(8,1.2),
 (-7.6,2.46),(3.3,2.43),(-3.3,2.27),(7.6,2.27),(-5.4,2.24),(1.6,2.2),(-8.6,2.2),(5.6,2.09),(-3.6,2.1),(8.4,2.14),(-.6,2.04),(2.6,2.02),(-6.6,2.0),(-4.4,1.95),(.7,1.93),(5.6,1.99),(7.6,1.88),(-8.3,1.9),(-2.6,1.88),(2.4,1.86),(-6.4,1.85),(4.6,1.82),(8.3,1.78),(-4.3,1.78),(.4,1.74),(-7.4,1.7),(2.6,1.68),(6.4,1.7),(-1.4,1.68),(-5.3,1.64),(3.6,1.6),(-8.3,1.58),(.7,1.56),(5.4,1.55),(-3.6,1.49),(7.4,1.47)]
D2_STRIP_CD4_NEG = [-9,-8,-7.4,-6.8,-6,-5.2,-4.4,-3.8,-3,-2.2,-1.4,-.6,.2,1,2,2.8,3.6,4.6,5.4,6.4,7.2,8,9.4]
D2_STRIP_CD4_POS = [-9.6,-9,-8.2,-7.4,-6.6,-5.8,-5,-4,-3,-2.4,-1.6,-.8,0,.8,1.6,2.6,3.4,4.2,5,6,7,7.8,9.6]
D2_STRIP_DC_NEG = [-9,-8,-6,-3.5,-3,-1,1,2.5,3,4,5.5]
D2_STRIP_DC_POS = [-9.5,-8.5,-8,-7.4,-6.6,-5.8,-5,-4.2,-3.4,-2.6,-1.8,-1,-.2,.6,1.4,2.2,3,3.8,4.6,5.4,6.4]

# ---------------- G: box and outliers
G_Q1, G_MEDIAN, G_Q3, G_LOW, G_HIGH = -1.93, -0.97, 0.0, -4.8, 2.85
G_OUT_SLOT = [1, 0, -1, 0, 1, 1, 0, 1, 0, 1, 0, 0, 1, 0]
G_OUT_Z = [5.94, 5.82, 4.85, 4.78, 4.79, 4.30, 4.19, 3.86, 3.72, 3.53, 3.41, 3.12, 3.07, 2.88]
G_TICKS = [-5, -4, -3, -2, -1, 0, 1, 2, 3, 4, 5, 6]
G_WIDGET_LABELS = ["0.0", "0.5", "1.0", "1.5", "2.0", "2.5", "3.0"]
G_RADIO = ["small", "medium", "large"]
G_TOOLTIP = ["Compound: afatinib", "Correlation: 0.243", "z-score: 5.95"]

# ---------------- styles
ARIAL = "Liberation Sans"
OPEN = "Open Sans"
RED, GREEN, LIME = "#E94B35", "#2EA82E", "#8DBE22"
SALMON, TEAL = "#FA7A70", "#0C8490"
BOX_LINE = ["#E9604A", "#6CC5E0", "#2BAE90"]
BOX_FILL = ["rgba(233,96,74,.5)", "rgba(108,197,224,.6)", "rgba(30,160,130,.55)"]
BOX_DOT = ["#E94F37", "#4FBBD8", "#00A087"]


def fx(p):
    return p / W


def fy(p):
    return 1 - p / H


fig = go.Figure()
annotations, shapes = [], []


def ann(x, y, text, size=10, color="#222", family=OPEN, xanchor="left", angle=0, **kw):
    shift = 1.2 if xanchor == "left" else 0
    annotations.append(dict(x=fx(x - shift), y=fy(y), xref="paper", yref="paper", text=text, showarrow=False,
                            xanchor=xanchor, yanchor="middle", textangle=angle,
                            font=dict(size=size, color=color, family=family, **kw), borderpad=0))


def rect(l, t, r, b, fill, line=None, lw=0):
    shapes.append(dict(type="rect", xref="paper", yref="paper", x0=fx(l), x1=fx(r), y0=fy(b), y1=fy(t),
                       fillcolor=fill, line=dict(color=line or fill, width=lw), layer="above"))


def circle(cx, cy, r, fill, line, lw=1):
    shapes.append(dict(type="circle", xref="paper", yref="paper", x0=fx(cx - r), x1=fx(cx + r), y0=fy(cy + r),
                       y1=fy(cy - r), fillcolor=fill, line=dict(color=line, width=lw), layer="above"))


def triangle(cx, cy, color, pointing_down=False):
    s = -1 if pointing_down else 1
    path = f"M{fx(cx-5.5)},{fy(cy+4.5*s)} L{fx(cx+5.5)},{fy(cy+4.5*s)} L{fx(cx)},{fy(cy-4.5*s)} Z"
    shapes.append(dict(type="path", xref="paper", yref="paper", path=path, fillcolor=color, line=dict(width=0),
                       layer="above"))


def base_axis(l_r, rng, anchor, **kw):
    d = dict(domain=[fx(l_r[0]), fx(l_r[1])], range=rng, anchor=anchor, showgrid=False, zeroline=False)
    d.update(kw)
    return d


def base_yaxis(t_b, rng, anchor, **kw):
    d = dict(domain=[fy(t_b[1]), fy(t_b[0])], range=rng, anchor=anchor, showgrid=False, zeroline=False)
    d.update(kw)
    return d


layout_axes = {}


# ---------- volcano panels
def volcano(n, cols, rows, xr, yr, xticks, yticks, red, green, green_col, labels, thr):
    xa, ya = f"x{n}", f"y{n}"
    tick = dict(size=8, family=ARIAL, color="#333")
    layout_axes[f"xaxis{n}"] = base_axis(cols, xr, ya, tickvals=xticks, tickfont=tick, ticks="outside", ticklen=3,
                                         tickwidth=1, showline=True, mirror=True, linecolor="#666", linewidth=1.2,
                                         tickformat=".1f")
    layout_axes[f"yaxis{n}"] = base_yaxis(rows, yr, xa, tickvals=yticks, tickfont=tick, ticks="outside", ticklen=3,
                                          tickwidth=1, showline=True, mirror=True, linecolor="#666", linewidth=1.2)
    for (cx, cy, pts), col in ((red, RED), (green, green_col)):
        fig.add_trace(go.Scatter(x=[p[0] for p in pts], y=[p[1] for p in pts], mode="markers",
                                 marker=dict(symbol="triangle-up", size=4.5, color=col, opacity=.6, line=dict(width=0)),
                                 xaxis=xa, yaxis=ya, showlegend=False, hoverinfo="skip"))
        fig.add_trace(go.Scatter(x=cx, y=cy, fill="toself", fillcolor=col, mode="lines", line=dict(width=1, color=col),
                                 xaxis=xa, yaxis=ya, showlegend=False, hoverinfo="skip"))
    fig.add_trace(go.Scatter(x=xr, y=[thr, thr], mode="lines", line=dict(color="#3F9DBE", width=1, dash="2px,2px"),
                             xaxis=xa, yaxis=ya, showlegend=False, hoverinfo="skip"))
    for t, x, y in zip(*labels):
        annotations.append(dict(x=x, y=y, xref=xa, yref=ya, text=t, showarrow=False, bgcolor="rgba(255,255,255,.72)",
                                bordercolor="#AAA", borderwidth=.7, borderpad=2,
                                font=dict(size=9, family=ARIAL, color="#E8574A")))


volcano(1, (28, 326), (38, 232), [-.551, .613], [-.67, 17.1],
        [-.5, -.4, -.3, -.2, -.1, 0, .1, .2, .3, .4, .5, .6], list(range(0, 17, 2)),
        (A_RED_CORE_X, A_RED_CORE_Y, A_RED_PTS),
        (A_GREEN_CORE_X, A_GREEN_CORE_Y, A_GREEN_PTS), GREEN,
        (A_LABELS, A_LABEL_X, A_LABEL_Y), A_THRESHOLD)
volcano(2, (446.7, 745), (37.7, 232.3), [-.448, .504], [-.45, 10.48],
        [-.4, -.3, -.2, -.1, 0, .1, .2, .3, .4, .5], list(range(0, 11)),
        (B_RED_CORE_X, B_RED_CORE_Y, B_RED_PTS),
        (B_GREEN_CORE_X, B_GREEN_CORE_Y, B_GREEN_PTS), LIME,
        (B_LABELS, B_LABEL_X, B_LABEL_Y), B_THRESHOLD)
ann(177, 253, "log2(FoldChange)", 9.2, "#333", ARIAL, "center")
ann(596, 253, "log2(FoldChange)", 9.2, "#333", ARIAL, "center")
ann(5, 127, "-log10(pvalue)", 9, "#333", ARIAL, "center", -90)
ann(425, 128, "-log10(pvalue)", 9, "#333", ARIAL, "center", -90)
for lx, c2 in ((334.5, GREEN), (753, LIME)):
    ann(lx, 44, "Regulated", 9, "#222", ARIAL)
    triangle(lx + 4.5, 57.5, RED)
    ann(lx + 12, 58, "Hypermethylated", 9, "#3A2A2A", ARIAL)
    triangle(lx + 4.5, 76.5, c2)
    ann(lx + 12, 77, "Hypomethylated", 9, "#3A2A2A", ARIAL)

# ---------- C
layout_axes["xaxis3"] = base_axis((888, 1129), [-.59, 2.644], "y3", tickvals=[0, 1, 2], ticktext=C_PROBES,
                                  tickfont=dict(size=9.7, family=ARIAL, color="#222", weight="bold"), showgrid=True,
                                  gridcolor="#E8E8E8", showline=True, linecolor="#999", linewidth=1.2, mirror=True,
                                  ticks="", ticklabelshift=10, ticklabelstandoff=-2)
layout_axes["yaxis3"] = base_yaxis((33, 269), [.125, 1.024], "x3", tickvals=[.2, .4, .6, .8, 1.0], tickformat=".1f",
                                   tickfont=dict(size=7, family=ARIAL, color="#444"), showgrid=True, gridcolor="#E8E8E8",
                                   showline=True, linecolor="#999", linewidth=1.2, mirror=True, ticks="outside",
                                   ticklen=2, tickcolor="#555")
OFFS = [-.313, 0, .313]
for g, name in enumerate(C_GROUPS):
    fig.add_trace(go.Box(x=[c + OFFS[g] for c in range(3)], q1=C_Q1[g], median=C_MED[g], q3=C_Q3[g],
                         lowerfence=C_LOW[g], upperfence=C_HIGH[g], width=.26, whiskerwidth=.55, name=name,
                         line=dict(color=BOX_LINE[g], width=1.1), fillcolor=BOX_FILL[g], boxpoints=False,
                         xaxis="x3", yaxis="y3", showlegend=False, hoverinfo="skip"))
LEVELS = [.849, .896, .943]
SPANS = [(-.313, 0), (0, .313), (-.313, .313)]
bx, by = [], []
for c in range(3):
    for lvl, (a, b) in zip(LEVELS, SPANS):
        bx += [c + a, c + a, c + b, c + b, None]
        by += [lvl - .012, lvl, lvl, lvl - .012, None]
fig.add_trace(go.Scatter(x=bx, y=by, mode="lines", line=dict(color="#666", width=.9), xaxis="x3", yaxis="y3",
                         showlegend=False, hoverinfo="skip"))
for c, row in enumerate(C_STARS):
    for t, xo, yv in zip(row, (-.156, .156, 0, 0), (.863, .916, .96, 1.0)):
        annotations.append(dict(x=c + xo, y=yv, xref="x3", yref="y3", text=t, showarrow=False,
                                font=dict(size=6.5, family=ARIAL, color="#444")))
ann(867, 129, "DNA methylation", 12, "#111", ARIAL, "center", -90, weight="bold")
ann(1136, 36, "Group", 9, "#222", ARIAL, weight="bold")
for i, name in enumerate(C_GROUPS):
    cy = [47.7, 59.7, 71.5][i]
    circle(1139.5, cy, 3.5, BOX_DOT[i], BOX_DOT[i])
    ann(1145, cy + .3, name, 9.2, "#222", ARIAL, weight="bold")

# ---------- D
layout_axes["xaxis4"] = base_axis((62, 262.6), [-1.067, 3.391], "y4",
                                  tickvals=[0], ticktext=D_CANCER, tickangle=-45,
                                  tickfont=dict(size=16, family=OPEN, color="#555"), showline=True, linecolor="#666",
                                  linewidth=1, ticks="", ticklabelstandoff=8, ticklabelshift=-2)
layout_axes["yaxis4"] = base_yaxis((384.3, 550.3), [0, 200], "x4", tickvals=[0, 50, 100, 150, 200], showgrid=True,
                                   gridcolor="#EEE", tickfont=dict(size=14, family=OPEN, color="#666"), ticks="")
fig.add_trace(go.Bar(x=[-.111], y=D_TUMOR, width=.222, marker=dict(color="#FF6060"), name="Tumor", xaxis="x4",
                     yaxis="y4", showlegend=False, hoverinfo="skip"))
fig.add_trace(go.Bar(x=[.111], y=D_NORMAL, width=.222, marker=dict(color="#444444"), name="Normal", xaxis="x4",
                     yaxis="y4", showlegend=False, hoverinfo="skip"))
rect(171, 334, 185, 348, "#FF6060")
rect(171, 356, 185, 370, "#444444")
ann(201, 342, "Tumor", 14, "#666")
ann(201, 363.5, "Normal", 14, "#666")
ann(12, 469, "Transcripts Per Million (TPM)", 16, "#666", OPEN, "center", -90)

# ---------- E
E_TICK = dict(size=10, family=OPEN, color="#222")
fig.update_layout(coloraxis=dict(
    colorscale=[[0, "#D3D3D3"], [1, "#0000FF"]], cmin=0, cmax=4.05,
    colorbar=dict(x=fx(1088), xanchor="left", y=fy(398), yanchor="top", len=58, lenmode="pixels", thickness=11,
                  thicknessmode="pixels", tickvals=[0, 1, 2, 3], outlinewidth=0, ticks="", ypad=0, xpad=0,
                  tickfont=dict(size=9, family=OPEN, color="#333"))))
for idx, (n, left, clusters, high, mid) in enumerate(((5, 355, E1_CLUSTERS, E1_HIGH, E1_MID),
                                                      (6, 615, E2_CLUSTERS, E2_HIGH, E2_MID),
                                                      (7, 876.5, E3_CLUSTERS, E3_HIGH, E3_MID))):
    xa, ya = f"x{n}", f"y{n}"
    layout_axes[f"xaxis{n}"] = base_axis((left, left + 192), [-16.4, 12.3], ya, tickvals=[-15, -10, -5, 0, 5, 10],
                                         tickfont=E_TICK, showline=True, linecolor="#333", linewidth=1.2,
                                         ticks="outside", ticklen=3)
    layout_axes[f"yaxis{n}"] = base_yaxis((329.3, 529), [-12.2, 16.4], xa, tickvals=[-10, -5, 0, 5, 10, 15],
                                          tickfont=E_TICK, showline=True, linecolor="#333", linewidth=1.2,
                                          ticks="outside", ticklen=3)
    for poly in clusters:
        fig.add_trace(go.Scatter(x=[p[0] for p in poly], y=[p[1] for p in poly], fill="toself", fillcolor="#D3D3D3",
                                 mode="lines", line=dict(color="#D3D3D3", width=1), xaxis=xa, yaxis=ya,
                                 showlegend=False, hoverinfo="skip"))
    if n == 7:
        for poly in E3_HOLES:
            fig.add_trace(go.Scatter(x=[p[0] for p in poly], y=[p[1] for p in poly], fill="toself", fillcolor="white",
                                     mode="lines", line=dict(width=0), xaxis=xa, yaxis=ya, showlegend=False,
                                     hoverinfo="skip"))
    size = 2.4 if n == 7 else 3
    for pts, level in ((mid, E_LEVEL_MID), (high, E_LEVEL_HIGH)):
        fig.add_trace(go.Scatter(x=[p[0] for p in pts], y=[p[1] for p in pts], mode="markers",
                                 marker=dict(size=size, color=[level for _ in pts], coloraxis="coloraxis",
                                             line=dict(width=0)),
                                 xaxis=xa, yaxis=ya, showlegend=False, hoverinfo="skip"))
    cx = left + 95.5
    ann(cx, 316, E_TITLES[idx], 12, "#222", OPEN, "center")
    ann(cx, 553.5, "UMAP_1", 11.5, "#222", OPEN, "center")
    ann(left - 31, 426, "UMAP_2", 12.5, "#222", OPEN, "center", -90)
ann(1073, 430, "CDC42", 12, "#222", OPEN, "center", 90)

# ---------- F
F_TICK = dict(size=13.5, family=OPEN, color="#222")
F_YTICK = dict(size=14, family=OPEN, color="#222")
layout_axes["xaxis8"] = base_axis((55.7, 444.6), [-.601, 1.603], "y8", tickvals=[0, 1],
                                  ticktext=["CD4+ T cells", "Dendritic cells"], tickangle=-45, tickfont=F_TICK,
                                  showline=True, linecolor="#333", linewidth=1.2, ticks="outside", ticklen=4)
layout_axes["yaxis8"] = base_yaxis((658, 809), [-.0321, .574], "x8", type="log", tickvals=[1, 2, 3], ticktext=["1", "2", "3"],
                                   tickfont=F_YTICK, showline=True, linecolor="#333", linewidth=1.2, ticks="outside",
                                   ticklen=4)
layout_axes["xaxis9"] = base_axis((606.5, 1312), [-.6, 1.6], "y9", tickvals=[0, 1],
                                  ticktext=["CD4+ T cells", "Dendritic cells"], tickangle=-45, tickfont=F_TICK,
                                  showline=True, linecolor="#333", linewidth=1.2, ticks="outside", ticklen=4)
layout_axes["yaxis9"] = base_yaxis((658, 812.7), [-.0326, .5675], "x9", type="log", tickvals=[1, 2, 3], ticktext=["1", "2", "3"],
                                   tickfont=F_YTICK, showline=True, linecolor="#333", linewidth=1.2, ticks="outside",
                                   ticklen=4)


def violin(n, center, ys, ws, color):
    xs = [center - w for w in ws] + [center + w for w in reversed(ws)]
    yy = list(ys) + list(reversed(ys))
    fig.add_trace(go.Scatter(x=xs, y=yy, fill="toself", fillcolor=color, mode="lines",
                             line=dict(color="#444", width=1, shape="spline", smoothing=.7), xaxis=f"x{n}", yaxis=f"y{n}",
                             showlegend=False, hoverinfo="skip"))


def dots(n, center, cloud, strip, extra_strip_y=1.0):
    xs = [center + d / 100 for d, _ in cloud] + [center + d / 100 for d in strip]
    ys = [v for _, v in cloud] + [extra_strip_y for _ in strip]
    fig.add_trace(go.Scatter(x=xs, y=ys, mode="markers", marker=dict(size=2.2, color="black", line=dict(width=0)),
                             xaxis=f"x{n}", yaxis=f"y{n}", showlegend=False, hoverinfo="skip"))


violin(8, -.227, V1_CD4_CESC_Y, V1_CD4_CESC_W, SALMON)
violin(8, .224, V1_CD4_NORM_Y, V1_CD4_NORM_W, TEAL)
violin(8, 1.0, V1_DC_CESC_Y, V1_DC_CESC_W, SALMON)
dots(8, -.227, D1_CD4, D1_CD4_STRIP)
dots(8, .224, D1_NORM, D1_NORM_STRIP)
dots(8, .775, D1_DC, D1_DC_STRIP)
fig.add_trace(go.Scatter(x=D1_LONE_X, y=D1_LONE_Y, mode="markers", marker=dict(size=2.2, color="black"),
                         xaxis="x8", yaxis="y8", showlegend=False, hoverinfo="skip"))
violin(9, -.225, V2_CD4_NEG_Y, V2_CD4_NEG_W, SALMON)
violin(9, .225, V2_CD4_POS_Y, V2_CD4_POS_W, TEAL)
violin(9, .775, V2_DC_NEG_Y, V2_DC_NEG_W, SALMON)
violin(9, 1.225, V2_DC_POS_Y, V2_DC_POS_W, TEAL)
dots(9, -.225, D2_CD4_NEG, D2_STRIP_CD4_NEG)
dots(9, .225, D2_CD4_POS, D2_STRIP_CD4_POS)
dots(9, .775, D2_DC_NEG, D2_STRIP_DC_NEG)
dots(9, 1.225, D2_DC_POS, D2_STRIP_DC_POS)

ann(249.5, 640, "CDC42", 18, "#222", OPEN, "center")
ann(959, 640, "CDC42", 18, "#222", OPEN, "center")
ann(26, 742.5, "Expression Level", 15.5, "#222", OPEN, "center", -90)
ann(577, 742.5, "Expression Level", 15.5, "#222", OPEN, "center", -90)
ann(959.5, 907, "Identity", 15.5, "#222", OPEN, "center")
rect(462, 720.7, 480.5, 739, SALMON, "#666", 1)
rect(462, 739.5, 480.5, 757.7, TEAL, "#666", 1)
ann(489, 729.5, "CESC", 13.5)
ann(489, 749, "Normal", 13.5)
rect(1330, 721.7, 1348, 739, SALMON, "#666", 1)
rect(1330, 741, 1348, 757.7, TEAL, "#666", 1)
ann(1357, 731, "HPV−neg.", 13.3)
ann(1357, 750, "HPV−pos.", 13.3)

# ---------- G
layout_axes["xaxis10"] = base_axis((92.7, 440), [-24.06, 21.04], "y10", visible=False)
layout_axes["yaxis10"] = base_yaxis((949, 1394), [-5.32, 6.45], "x10", tickvals=G_TICKS,
                                    ticktext=[str(t) for t in G_TICKS], tickfont=dict(size=14, family=OPEN, color="#222"),
                                    showline=True, linecolor="#222", linewidth=1, ticks="outside", ticklen=6)
XR = 17.9
g_lines = [dict(type="rect", x0=-XR, x1=XR, y0=G_Q1, y1=G_Q3, line=dict(color="#111", width=1.3)),
           dict(type="line", x0=-XR, x1=XR, y0=G_MEDIAN, y1=G_MEDIAN, line=dict(color="#111", width=1.3)),
           dict(type="line", x0=-XR, x1=XR, y0=G_HIGH, y1=G_HIGH, line=dict(color="#111", width=1.6)),
           dict(type="line", x0=-XR, x1=XR, y0=G_LOW, y1=G_LOW, line=dict(color="#111", width=1.6)),
           dict(type="line", x0=0, x1=0, y0=G_Q3, y1=G_HIGH, line=dict(color="#111", width=1.6, dash="3px,3px")),
           dict(type="line", x0=0, x1=0, y0=G_LOW, y1=G_Q1, line=dict(color="#111", width=1.6, dash="3px,3px"))]
for s in g_lines:
    s.update(xref="x10", yref="y10", layer="below")
    shapes.append(s)
fig.add_trace(go.Scatter(x=G_OUT_SLOT, y=G_OUT_Z, mode="markers",
                         marker=dict(size=8, color="#E3131A", line=dict(color="#111", width=1.3)), xaxis="x10",
                         yaxis="y10", showlegend=False, hoverinfo="skip"))
ann(38, 1155, "Pearson correlation z-score", 12.5, "#555", "DejaVu Sans", "center", -90)
ann(272, 1411.5, "CDC42", 9.5, "#222", "DejaVu Sans", "center", weight="bold")
ann(424, 1085, "3", 9, "#555", "DejaVu Sans", "center")
ann(427, 1229, "-1", 9, "#555", "DejaVu Sans", "center")
ann(427, 1374, "-5", 9, "#555", "DejaVu Sans", "center")
ann(131, 1193, "0", 9, "#555", "DejaVu Sans", "center")
ann(129, 1265, "-2", 9, "#555", "DejaVu Sans", "center")

# tooltip, drawn over panel F's tick label
rect(164, 872, 332, 939, "#333333")
triangle(248, 945, "#333333", pointing_down=True)
for i, t in enumerate(G_TOOLTIP):
    ann(177.5, 886.8 + 15 * i, t, 14.7, "#00FF00", OPEN, weight=700)

# slider widget
rect(519, 1058.5, 650, 1292, "rgba(255,255,255,0)", "#555", 2)
ann(509, 1046.5, "interquartile multiplier", 12.5, "#333")
for i, t in enumerate(G_WIDGET_LABELS):
    ann(583.2, 1121 + 17.3 * i, t, 13.5, "#222", OPEN, "right")
shapes.append(dict(type="line", xref="paper", yref="paper", x0=fx(594.3), x1=fx(594.3), y0=fy(1121), y1=fy(1227),
                   line=dict(color="#777", width=1), layer="above"))
circle(594.3, 1174, 9, "white", "#888", 1)
ann(509, 1301, "outlier radius:", 12.5, "#333")
for i, t in enumerate(G_RADIO):
    cy = 1321 + 23.7 * i
    if i == 2:
        circle(522.5, cy, 5.6, "white", "#1B6FC4", 1.2)
        circle(522.5, cy, 3.6, "#1B6FC4", "#1B6FC4", 0)
    else:
        circle(522.5, cy, 5.6, "white", "#8A8A8A", 1)
    ann(532.5, cy + 2, t, 12.5, "#444")

# panel letters
for letter, x, y in (("A", 1.5, 16), ("B", 413.5, 16), ("C", 850.5, 16), ("D", 1.5, 305), ("E", 324.5, 305), ("F", 2, 642),
                     ("G", 2, 944)):
    ann(x, y, letter, 26, "#000", ARIAL, weight="bold")

fig.update_layout(width=W, height=H, margin=dict(l=0, r=0, t=0, b=0, autoexpand=False), paper_bgcolor="white",
                  plot_bgcolor="white", boxmode="overlay", barmode="overlay", showlegend=False,
                  annotations=annotations, shapes=shapes, **layout_axes)
fig.write_html("out.html", config={"displayModeBar": False},
               post_script="document.body.style.margin='0';document.documentElement.style.overflow='hidden';")
